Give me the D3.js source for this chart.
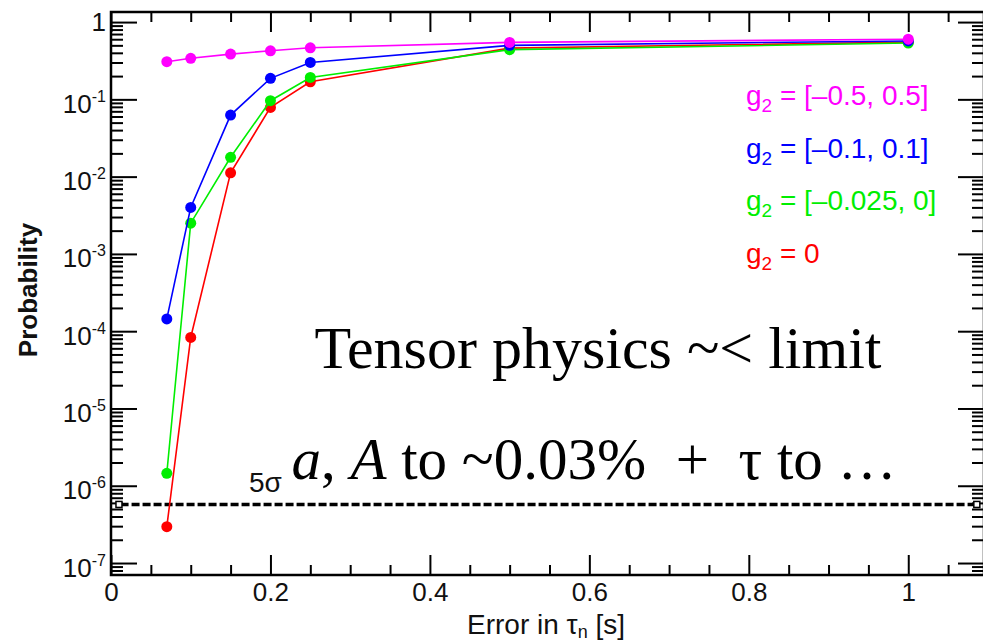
<!DOCTYPE html>
<html>
<head>
<meta charset="utf-8">
<script src="https://cdn.jsdelivr.net/npm/d3@7"></script>
<style>
  body { margin: 0; background: #fff; }
  svg { display: block; }
</style>
</head>
<body>
<svg id="chart" width="983" height="642"></svg>
<script>
// error on the neutron lifetime [s]
var errTau = [0.07, 0.1, 0.15, 0.2, 0.25, 0.5, 1.0];

// probability for each allowed g2 range
var probWide   = [0.307, 0.34, 0.385, 0.425, 0.465, 0.546, 0.60];
var probMid    = [1.44e-4, 4.0e-3, 0.0626, 0.187, 0.30, 0.50, 0.57];
var probNarrow = [1.45e-6, 2.5e-3, 0.0178, 0.096, 0.192, 0.44, 0.535];
var probZero   = [2.95e-7, 8.3e-5, 0.0112, 0.0787, 0.169, 0.46, 0.55];

var legendLabels = ["= [\u20130.5, 0.5]", "= [\u20130.1, 0.1]", "= [\u20130.025, 0]", "= 0"];
var seriesColors = ["#ff00ff", "#0000ff", "#00ee00", "#ff0000"];

var xMajorTicks = [0, 0.2, 0.4, 0.6, 0.8, 1];
var xMinorTicks = [0.05, 0.1, 0.15, 0.25, 0.3, 0.35, 0.45, 0.5, 0.55, 0.65, 0.7, 0.75, 0.85, 0.9, 0.95, 1.05];
var yDecades = [1e-7, 1e-6, 1e-5, 1e-4, 1e-3, 1e-2, 1e-1, 1];

var fiveSigma = 5.73e-7;

var svg = d3.select("#chart");
var frame = { left: 111, right: 984, top: 12, bottom: 575 };

var x = d3.scaleLinear().domain([0, 1.095]).range([frame.left, frame.right]);
var y = d3.scaleLog().domain([7.0e-8, 1.35]).range([frame.bottom, frame.top]);

var yMinor = [];
yDecades.forEach(function(d) {
    for (var k = 2; k <= 9; k++) {
        var v = d * k;
        if (v < y.domain()[1]) yMinor.push(v);
    }
});
yMinor.push(8e-8, 9e-8);

var sans = "'Liberation Sans', Arial, sans-serif";

svg.append("rect").attr("width", 983).attr("height", 642).attr("fill", "#fff");

function styleAxis(g) {
    g.select(".domain").remove();
    g.selectAll(".tick line").attr("stroke", "#000").attr("stroke-width", 2);
}

// bottom axis, ticks point into the frame
svg.append("g").attr("transform", "translate(0," + frame.bottom + ")")
    .call(d3.axisBottom(x).tickValues(xMajorTicks).tickSize(-20).tickPadding(8)
        .tickFormat(function(d) { return d === 0 ? "0" : d3.format("~g")(d); }))
    .call(styleAxis)
    .selectAll("text").attr("font-family", sans).attr("font-size", 26).attr("fill", "#111");
svg.append("g").attr("transform", "translate(0," + frame.bottom + ")")
    .call(d3.axisBottom(x).tickValues(xMinorTicks).tickSize(-10).tickFormat(""))
    .call(styleAxis);

// top axis
svg.append("g").attr("transform", "translate(0," + frame.top + ")")
    .call(d3.axisTop(x).tickValues(xMajorTicks).tickSize(-20).tickFormat(""))
    .call(styleAxis);
svg.append("g").attr("transform", "translate(0," + frame.top + ")")
    .call(d3.axisTop(x).tickValues(xMinorTicks).tickSize(-10).tickFormat(""))
    .call(styleAxis);

// left axis with power-of-ten labels
var yAxisG = svg.append("g").attr("transform", "translate(" + frame.left + ",0)")
    .call(d3.axisLeft(y).tickValues(yDecades).tickSize(-26).tickPadding(5))
    .call(styleAxis);
yAxisG.selectAll(".tick text").each(function(d) {
    var t = d3.select(this).text("")
        .attr("font-family", sans).attr("font-size", 26).attr("fill", "#111");
    var e = Math.round(Math.log10(d));
    if (e === 0) {
        t.attr("dy", "0.31em").text("1");
        return;
    }
    t.attr("dy", "0.5em");
    t.append("tspan").text("10");
    t.append("tspan").attr("dy", -11).attr("font-size", 16).text("-" + (-e));
});
svg.append("g").attr("transform", "translate(" + frame.left + ",0)")
    .call(d3.axisLeft(y).tickValues(yMinor).tickSize(-12).tickFormat(""))
    .call(styleAxis);

// right axis
svg.append("g").attr("transform", "translate(" + frame.right + ",0)")
    .call(d3.axisRight(y).tickValues(yDecades).tickSize(-26).tickFormat(""))
    .call(styleAxis);
svg.append("g").attr("transform", "translate(" + frame.right + ",0)")
    .call(d3.axisRight(y).tickValues(yMinor).tickSize(-12).tickFormat(""))
    .call(styleAxis);

// frame
svg.append("rect")
    .attr("x", frame.left).attr("y", frame.top)
    .attr("width", frame.right - frame.left).attr("height", frame.bottom - frame.top)
    .attr("fill", "none").attr("stroke", "#000").attr("stroke-width", 2.5);

// 5 sigma line
svg.append("line")
    .attr("x1", x(0.012)).attr("x2", x(1.086))
    .attr("y1", y(fiveSigma)).attr("y2", y(fiveSigma))
    .attr("stroke", "#000").attr("stroke-width", 3.5).attr("stroke-dasharray", "8,3");
[0.01, 1.086].forEach(function(v) {
    svg.append("rect")
        .attr("x", x(v) - 3).attr("y", y(fiveSigma) - 3)
        .attr("width", 6).attr("height", 6)
        .attr("fill", "#fff").attr("stroke", "#000").attr("stroke-width", 1.5);
});
svg.append("text")
    .attr("x", x(0.2) - 5).attr("y", y(fiveSigma) - 12)
    .attr("text-anchor", "middle")
    .attr("font-family", sans).attr("font-size", 28).attr("fill", "#111")
    .text("5\u03c3");

// series, drawn with the widest range on top
var series = [probZero, probNarrow, probMid, probWide];
var colors = [seriesColors[3], seriesColors[2], seriesColors[1], seriesColors[0]];

var line = d3.line()
    .x(function(d, i) { return x(errTau[i]); })
    .y(function(d) { return y(d); });

series.forEach(function(vals, s) {
    var g = svg.append("g");
    g.append("path")
        .datum(vals)
        .attr("d", line)
        .attr("fill", "none")
        .attr("stroke", colors[s])
        .attr("stroke-width", 1.6);
    g.selectAll("circle")
        .data(vals)
        .enter()
        .append("circle")
        .attr("cx", function(d, i) { return x(errTau[i]); })
        .attr("cy", function(d) { return y(d); })
        .attr("r", 5.5)
        .attr("fill", colors[s]);
});

// legend
legendLabels.forEach(function(lbl, i) {
    var t = svg.append("text")
        .attr("x", 746).attr("y", 105 + i * 52.5)
        .attr("font-family", sans).attr("font-size", 28)
        .attr("fill", seriesColors[i]);
    t.append("tspan").text("g");
    t.append("tspan").attr("dy", 7).attr("font-size", 19).text("2");
    t.append("tspan").attr("dy", -7).text(" " + lbl);
});

// axis titles
var xt = svg.append("text")
    .attr("x", 546).attr("y", 634)
    .attr("text-anchor", "middle")
    .attr("font-family", sans).attr("font-size", 28).attr("fill", "#111");
xt.append("tspan").text("Error in  \u03c4");
xt.append("tspan").attr("dy", 4).attr("font-size", 18).text("n");
xt.append("tspan").attr("dy", -4).text(" [s]");

svg.append("text")
    .attr("transform", "translate(37,290) rotate(-90)")
    .attr("text-anchor", "middle")
    .attr("font-family", sans).attr("font-size", 26).attr("font-weight", "bold")
    .attr("fill", "#111")
    .text("Probability");

// annotation
var serif = "'Liberation Serif', 'DejaVu Serif', serif";
svg.append("text")
    .attr("x", 598).attr("y", 368)
    .attr("text-anchor", "middle")
    .attr("font-family", serif).attr("font-size", 60)
    .text("Tensor physics ~< limit");
var l2 = svg.append("text")
    .attr("x", 594).attr("y", 479)
    .attr("text-anchor", "middle")
    .attr("font-family", serif).attr("font-size", 59)
    .style("white-space", "pre");
l2.append("tspan").attr("font-style", "italic").text("a");
l2.append("tspan").text(", ");
l2.append("tspan").attr("font-style", "italic").text("A");
l2.append("tspan").text(" to ~0.03%  +  \u03c4 to \u2026");
</script>
</body>
</html>
